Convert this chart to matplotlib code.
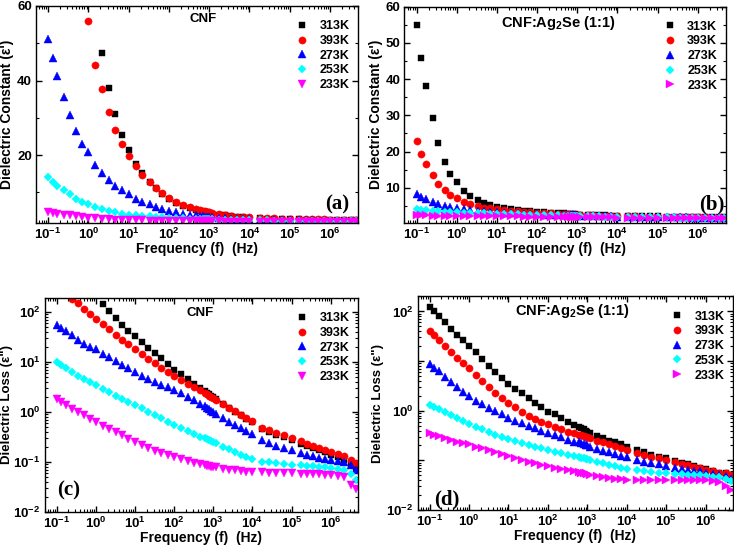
import numpy as np
import matplotlib
matplotlib.use("Agg")
import matplotlib.pyplot as plt
from matplotlib.ticker import LogLocator, NullFormatter, FixedLocator, FuncFormatter

nan = np.nan

# frequency grid (Hz)
freq = [0.1, 0.13, 0.17, 0.25, 0.35, 0.5, 0.7, 1.0, 1.5, 2.2, 3.3, 4.7, 6.8, 10, 15, 22, 33, 47, 68,
        100, 150, 220, 330, 470, 600, 700, 800, 900, 1000, 1200, 1800, 2500, 3500, 5000, 7000,
        1e4, 1.8e4, 2.7e4, 4e4, 6.5e4, 1e5, 1.7e5, 2.5e5, 3.5e5, 5e5, 7e5, 1e6, 1.5e6, 2.2e6, 3.3e6, 4.5e6]

temps = ["313K", "393K", "273K", "253K", "233K"]

# (a) CNF dielectric constant
a_313 = [nan, nan, nan, nan, nan, nan, nan, nan, nan, 47.4, 38.1, 30.9, 25.3, 21.3, 17.7, 15.2, 12.9, 11.1, 9.5,
         8.2, 7.2, 6.4, 5.8, 5.3, 5.0, 4.8, 4.7, 4.6, 4.5, 4.3, 4.0, 3.8, 3.6, 3.4, 3.3,
         3.2, 3.0, 2.95, 2.9, 2.85, 2.8, 2.75, 2.7, 2.68, 2.65, 2.62, 2.6, 2.57, 2.55, 2.5, 2.45]
a_393 = [nan, nan, nan, nan, nan, nan, nan, 56.0, 44.3, 37.6, 31.6, 26.8, 22.9, 19.8, 17.0, 14.7, 12.7, 11.1, 9.8,
         8.5, 7.5, 6.7, 6.0, 5.5, 5.2, 5.0, 4.9, 4.8, 4.7, 4.5, 4.2, 3.9, 3.7, 3.5, 3.4,
         3.3, 3.1, 3.05, 3.0, 2.95, 2.9, 2.85, 2.8, 2.78, 2.75, 2.72, 2.7, 2.67, 2.65, 2.6, 2.55]
a_273 = [51.2, 46.1, 41.3, 35.6, 30.7, 26.5, 23.0, 20.7, 17.4, 15.2, 13.4, 11.8, 10.5, 9.5, 8.3, 7.5, 6.9, 6.2, 5.6,
         5.1, 4.6, 4.3, 4.0, 3.8, 3.65, 3.55, 3.5, 3.45, 3.4, 3.3, 3.15, 3.05, 2.95, 2.85, 2.8,
         2.75, 2.65, 2.6, 2.58, 2.55, 2.52, 2.5, 2.48, 2.45, 2.43, 2.4, 2.38, 2.36, 2.34, 2.3, 2.25]
a_253 = [14.2, 12.9, 11.8, 10.5, 9.5, 8.3, 7.4, 6.9, 6.1, 5.6, 5.1, 4.7, 4.3, 4.0, 3.85, 3.7, 3.55, 3.4, 3.3,
         3.2, 3.1, 3.0, 2.95, 2.9, 2.85, 2.82, 2.8, 2.78, 2.76, 2.73, 2.68, 2.64, 2.6, 2.57, 2.54,
         2.52, 2.48, 2.46, 2.44, 2.42, 2.4, 2.38, 2.36, 2.35, 2.34, 2.33, 2.32, 2.31, 2.3, 2.27, 2.22]
a_233 = [4.8, 4.5, 4.3, 4.0, 3.8, 3.6, 3.4, 3.2, 3.0, 2.9, 2.8, 2.7, 2.6, 2.55, 2.5, 2.45, 2.4, 2.38, 2.35,
         2.33, 2.3, 2.28, 2.26, 2.24, 2.23, 2.22, 2.21, 2.2, 2.2, 2.19, 2.18, 2.17, 2.16, 2.15, 2.14,
         2.13, 2.12, 2.11, 2.1, 2.1, 2.09, 2.08, 2.08, 2.07, 2.07, 2.06, 2.06, 2.05, 2.05, 2.04, 2.0]

# (b) CNF:Ag2Se dielectric constant
b_313 = [54.8, 45.8, 38.0, 29.2, 22.4, 17.2, 13.7, 11.7, 9.2, 7.8, 6.7, 5.7, 5.3, 4.8, 4.5, 4.2, 3.9, 3.7, 3.55,
         3.4, 3.25, 3.1, 3.0, 2.9, 2.8, 2.75, 2.7, 2.65, 2.6, 2.55, 2.5, 2.45, 2.4, 2.35, 2.3,
         2.25, 2.2, 2.15, 2.12, 2.1, 2.07, 2.03, 2.0, 1.98, 1.95, 1.93, 1.9, 1.88, 1.85, 1.82, 1.8]
b_393 = [23.0, 19.3, 16.5, 13.5, 11.1, 9.3, 8.1, 7.1, 6.0, 5.5, 4.9, 4.5, 4.3, 4.0, 3.8, 3.6, 3.45, 3.3, 3.2,
         3.1, 3.0, 2.9, 2.8, 2.7, 2.65, 2.6, 2.57, 2.54, 2.5, 2.45, 2.4, 2.35, 2.3, 2.25, 2.2,
         2.15, 2.1, 2.07, 2.04, 2.01, 1.98, 1.95, 1.92, 1.9, 1.88, 1.85, 1.82, 1.8, 1.78, 1.75, 1.72]
b_273 = [8.3, 7.4, 6.8, 6.0, 5.5, 5.1, 4.6, 4.4, 4.0, 3.8, 3.6, 3.45, 3.3, 3.2, 3.1, 3.0, 2.9, 2.82, 2.75,
         2.68, 2.6, 2.55, 2.5, 2.45, 2.42, 2.4, 2.38, 2.36, 2.34, 2.3, 2.25, 2.2, 2.16, 2.12, 2.08,
         2.05, 2.0, 1.97, 1.95, 1.92, 1.9, 1.87, 1.85, 1.82, 1.8, 1.78, 1.76, 1.74, 1.72, 1.7, 1.68]
b_253 = [4.1, 3.95, 3.8, 3.65, 3.5, 3.4, 3.3, 3.2, 3.1, 3.0, 2.95, 2.9, 2.85, 2.8, 2.75, 2.7, 2.65, 2.6, 2.55,
         2.5, 2.45, 2.4, 2.36, 2.32, 2.3, 2.28, 2.26, 2.24, 2.22, 2.2, 2.16, 2.12, 2.08, 2.05, 2.02,
         2.0, 1.95, 1.92, 1.9, 1.88, 1.86, 1.83, 1.8, 1.78, 1.76, 1.74, 1.72, 1.7, 1.68, 1.66, 1.64]
b_233 = [2.4, 2.38, 2.36, 2.34, 2.32, 2.3, 2.28, 2.26, 2.24, 2.22, 2.2, 2.18, 2.16, 2.14, 2.12, 2.1, 2.08, 2.06, 2.04,
         2.02, 2.0, 1.98, 1.96, 1.94, 1.93, 1.92, 1.91, 1.9, 1.9, 1.89, 1.87, 1.85, 1.83, 1.81, 1.8,
         1.78, 1.76, 1.74, 1.73, 1.72, 1.71, 1.7, 1.68, 1.67, 1.66, 1.65, 1.64, 1.63, 1.62, 1.61, 1.6]

# (c) CNF dielectric loss
c_313 = [nan, nan, nan, nan, nan, nan, nan, nan, 142, 103, 75, 56, 42, 33, 25, 19.4, 15.1, 11.8, 9.3,
         7.0, 5.7, 4.6, 3.6, 3.0, 2.6, 2.4, 2.25, 2.1, 2.0, 1.8, 1.45, 1.2, 1.0, 0.85, 0.72,
         0.62, 0.46, 0.4, 0.35, 0.31, 0.27, 0.23, 0.21, 0.19, 0.17, 0.155, 0.14, 0.125, 0.11, 0.09, 0.072]
c_393 = [nan, nan, nan, 185, 151, 117, 90, 72, 57, 45, 35, 28, 22.5, 18, 14.3, 11.6, 9.4, 7.7, 6.3,
         5.2, 4.4, 3.7, 3.1, 2.7, 2.4, 2.25, 2.1, 2.0, 1.9, 1.75, 1.45, 1.22, 1.03, 0.88, 0.75,
         0.65, 0.48, 0.43, 0.38, 0.34, 0.3, 0.26, 0.23, 0.21, 0.19, 0.17, 0.16, 0.145, 0.13, 0.11, 0.095]
c_273 = [56, 48, 42, 34, 28, 23, 20, 18, 14.5, 12.5, 10.5, 8.8, 7.4, 6.3, 5.3, 4.6, 4.0, 3.5, 3.1,
         2.75, 2.35, 2.0, 1.7, 1.45, 1.3, 1.2, 1.12, 1.05, 0.98, 0.9, 0.75, 0.63, 0.55, 0.47, 0.41,
         0.36, 0.27, 0.24, 0.21, 0.19, 0.17, 0.15, 0.14, 0.13, 0.12, 0.115, 0.11, 0.105, 0.1, 0.085, 0.07]
c_253 = [10, 8.8, 7.6, 6.2, 5.2, 4.5, 3.9, 3.4, 2.9, 2.5, 2.1, 1.85, 1.6, 1.38, 1.18, 1.0, 0.86, 0.74, 0.63,
         0.54, 0.47, 0.41, 0.36, 0.32, 0.3, 0.285, 0.27, 0.26, 0.25, 0.235, 0.2, 0.18, 0.16, 0.14, 0.125,
         0.115, 0.1, 0.097, 0.094, 0.091, 0.088, 0.085, 0.083, 0.081, 0.079, 0.077, 0.075, 0.072, 0.068, 0.056, 0.044]
c_233 = [1.85, 1.6, 1.4, 1.15, 0.98, 0.85, 0.72, 0.63, 0.53, 0.46, 0.4, 0.34, 0.29, 0.25, 0.215, 0.19, 0.165, 0.15, 0.135,
         0.125, 0.113, 0.103, 0.095, 0.089, 0.086, 0.084, 0.082, 0.08, 0.079, 0.077, 0.073, 0.07, 0.068, 0.066, 0.064,
         0.063, 0.062, 0.061, 0.06, 0.06, 0.059, 0.058, 0.057, 0.056, 0.056, 0.055, 0.054, 0.053, 0.05, 0.035, 0.028]

# (d) CNF:Ag2Se dielectric loss
d_313 = [120, 100, 82, 60, 45, 34, 26, 20, 15, 11, 8.0, 6.0, 4.6, 3.5, 2.8, 2.25, 1.8, 1.42, 1.17,
         0.95, 0.85, 0.72, 0.6, 0.52, 0.47, 0.44, 0.42, 0.4, 0.38, 0.36, 0.31, 0.28, 0.25, 0.23, 0.21,
         0.19, 0.16, 0.145, 0.13, 0.12, 0.11, 0.098, 0.09, 0.083, 0.078, 0.072, 0.067, 0.062, 0.057, 0.057, 0.048]
d_393 = [40, 33, 27, 20, 15, 11.5, 9.0, 7.2, 5.2, 3.9, 3.0, 2.3, 1.8, 1.45, 1.17, 0.95, 0.8, 0.69, 0.6,
         0.54, 0.47, 0.42, 0.38, 0.35, 0.33, 0.32, 0.31, 0.3, 0.29, 0.28, 0.25, 0.23, 0.21, 0.195, 0.18,
         0.165, 0.14, 0.13, 0.12, 0.11, 0.1, 0.092, 0.085, 0.08, 0.075, 0.07, 0.065, 0.061, 0.057, 0.057, 0.05]
d_273 = [8.7, 7.3, 6.2, 4.8, 3.8, 3.0, 2.4, 2.0, 1.6, 1.35, 1.15, 1.0, 0.87, 0.72, 0.63, 0.56, 0.49, 0.44, 0.39,
         0.35, 0.32, 0.29, 0.26, 0.24, 0.23, 0.22, 0.21, 0.205, 0.2, 0.19, 0.17, 0.155, 0.145, 0.135, 0.125,
         0.117, 0.1, 0.094, 0.088, 0.083, 0.078, 0.072, 0.068, 0.065, 0.062, 0.06, 0.057, 0.054, 0.051, 0.048, 0.043]
d_253 = [1.32, 1.2, 1.08, 0.95, 0.83, 0.72, 0.62, 0.54, 0.47, 0.42, 0.37, 0.33, 0.3, 0.27, 0.245, 0.225, 0.205, 0.19, 0.175,
         0.16, 0.15, 0.14, 0.13, 0.122, 0.117, 0.113, 0.11, 0.108, 0.106, 0.102, 0.094, 0.088, 0.082, 0.077, 0.072,
         0.068, 0.063, 0.061, 0.059, 0.057, 0.056, 0.054, 0.053, 0.052, 0.051, 0.05, 0.048, 0.047, 0.046, 0.043, 0.038]
d_233 = [0.35, 0.33, 0.31, 0.28, 0.26, 0.24, 0.22, 0.21, 0.19, 0.175, 0.16, 0.148, 0.135, 0.122, 0.112, 0.103, 0.095, 0.088, 0.082,
         0.076, 0.071, 0.067, 0.063, 0.06, 0.058, 0.057, 0.056, 0.055, 0.054, 0.052, 0.049, 0.047, 0.045, 0.043, 0.042,
         0.041, 0.04, 0.04, 0.04, 0.04, 0.04, 0.04, 0.04, 0.04, 0.04, 0.04, 0.04, 0.039, 0.037, 0.031, 0.026]

colors = ["#000000", "#ff0000", "#0000ff", "#00ffff", "#ff00ff"]

plt.rcParams.update({
    "font.family": "Liberation Sans",
    "font.weight": "bold",
    "axes.labelweight": "bold",
    "mathtext.fontset": "custom",
    "mathtext.rm": "Liberation Sans:bold",
    "mathtext.bf": "Liberation Sans:bold",
    "mathtext.default": "bf",
    "axes.linewidth": 1.0,
})

fig = plt.figure(figsize=(7.34, 5.45), dpi=100)
ax_a = fig.add_axes([0.049, 0.591, 0.439, 0.398])
ax_b = fig.add_axes([0.551, 0.591, 0.438, 0.397])
ax_c = fig.add_axes([0.061, 0.061, 0.427, 0.392])
ax_d = fig.add_axes([0.569, 0.064, 0.430, 0.392])


def sci(v, pos):
    e = int(round(np.log10(v)))
    return r"$\mathbf{10^{%d}}$" % e


def style(ax):
    ax.set_xscale("log")
    ax.set_xlim(0.05, 5e6)
    ax.xaxis.set_major_locator(FixedLocator([1e-1, 1, 10, 1e2, 1e3, 1e4, 1e5, 1e6]))
    ax.xaxis.set_major_formatter(FuncFormatter(sci))
    ax.xaxis.set_minor_locator(LogLocator(base=10, subs=np.arange(2, 10), numticks=20))
    ax.xaxis.set_minor_formatter(NullFormatter())
    ax.tick_params(which="both", direction="in", top=True, right=True, labelsize=9.5, pad=3)
    ax.tick_params(which="major", length=4, width=1)
    ax.tick_params(which="minor", length=2, width=0.8)
    ax.set_xlabel("Frequency (f)  (Hz)", fontsize=10, labelpad=0)


def draw(ax, series, last_marker):
    markers = ["s", "o", "^", "D", last_marker]
    sizes = [4.8, 5.2, 5.2, 4.2, 5.2]
    for vals, lab, c, m, s in zip(series, temps, colors, markers, sizes):
        ax.plot(freq, vals, ls="none", marker=m, ms=s, color=c, mec=c, mew=0.3, label=lab)
    ax.legend(loc="upper right", bbox_to_anchor=(1.0, 0.975), frameon=False, fontsize=9,
              handlelength=1.0, handletextpad=0.9, labelspacing=0.22, borderaxespad=0.3)


# (a)
draw(ax_a, [a_313, a_393, a_273, a_253, a_233], "v")
style(ax_a)
ax_a.set_ylim(1.8, 60)
ax_a.yaxis.set_major_locator(FixedLocator([20, 40, 60]))
ax_a.yaxis.set_minor_locator(FixedLocator([10, 30, 50]))
ax_a.set_ylabel("Dielectric Constant (ε')", fontsize=10, labelpad=2)
ax_a.text(0.52, 0.94, "CNF", transform=ax_a.transAxes, ha="center", va="center", fontsize=9.5, fontweight="bold")
ax_a.text(0.935, 0.085, "(a)", transform=ax_a.transAxes, ha="center", va="center", fontsize=15,
          fontweight="bold", family="Liberation Serif")

# (b)
draw(ax_b, [b_313, b_393, b_273, b_253, b_233], ">")
style(ax_b)
ax_b.set_ylim(0.3, 60)
ax_b.yaxis.set_major_locator(FixedLocator([10, 20, 30, 40, 50, 60]))
ax_b.yaxis.set_minor_locator(FixedLocator([5, 15, 25, 35, 45, 55]))
ax_b.set_ylabel("Dielectric Constant (ε')", fontsize=10, labelpad=2)
ax_b.text(0.48, 0.925, "CNF:Ag$_2$Se (1:1)", transform=ax_b.transAxes, ha="center", va="center",
          fontsize=10.5, fontweight="bold")
ax_b.text(0.955, 0.085, "(b)", transform=ax_b.transAxes, ha="center", va="center", fontsize=15,
          fontweight="bold", family="Liberation Serif")

# (c)
draw(ax_c, [c_313, c_393, c_273, c_253, c_233], "v")
style(ax_c)
ax_c.set_yscale("log")
ax_c.set_ylim(0.01, 190)
ax_c.yaxis.set_major_locator(FixedLocator([1e-2, 1e-1, 1, 10, 100]))
ax_c.yaxis.set_major_formatter(FuncFormatter(sci))
ax_c.yaxis.set_minor_locator(LogLocator(base=10, subs=np.arange(2, 10), numticks=20))
ax_c.yaxis.set_minor_formatter(NullFormatter())
ax_c.set_ylabel('Dielectric Loss (ε")', fontsize=9.5, labelpad=0)
ax_c.text(0.495, 0.93, "CNF", transform=ax_c.transAxes, ha="center", va="center", fontsize=9.5, fontweight="bold")
ax_c.text(0.075, 0.10, "(c)", transform=ax_c.transAxes, ha="center", va="center", fontsize=15,
          fontweight="bold", family="Liberation Serif")

# (d)
draw(ax_d, [d_313, d_393, d_273, d_253, d_233], ">")
style(ax_d)
ax_d.set_yscale("log")
ax_d.set_ylim(0.01, 200)
ax_d.yaxis.set_major_locator(FixedLocator([1e-2, 1e-1, 1, 10, 100]))
ax_d.yaxis.set_major_formatter(FuncFormatter(lambda v, p: sci(v, p) if int(round(np.log10(v))) % 2 == 0 else ""))
ax_d.yaxis.set_minor_locator(LogLocator(base=10, subs=np.arange(2, 10), numticks=20))
ax_d.yaxis.set_minor_formatter(NullFormatter())
ax_d.set_ylabel('Dielectric Loss (ε")', fontsize=9.5, labelpad=2)
ax_d.text(0.49, 0.93, "CNF:Ag$_2$Se (1:1)", transform=ax_d.transAxes, ha="center", va="center",
          fontsize=10.5, fontweight="bold")
ax_d.text(0.093, 0.05, "(d)", transform=ax_d.transAxes, ha="center", va="center", fontsize=15,
          fontweight="bold", family="Liberation Serif")

fig.savefig("out.png", dpi=100)
